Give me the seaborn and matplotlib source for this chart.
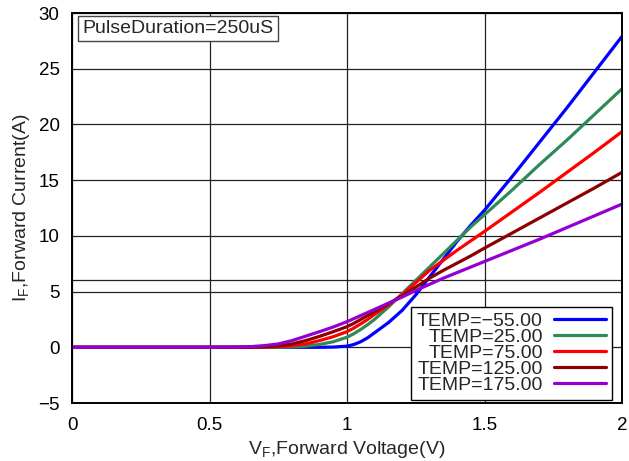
import numpy as np
import pandas as pd
import matplotlib
matplotlib.use("Agg")
import matplotlib.pyplot as plt
import seaborn as sns
from matplotlib.ticker import FixedLocator

# ---- data ----
vf = [0.0, 0.5, 0.6, 0.65, 0.7, 0.75, 0.8, 0.85, 0.9, 0.95, 1.0, 1.025, 1.05, 1.075, 1.1, 1.15,
      1.2, 1.25, 1.3, 1.35, 1.4, 1.45, 1.5, 1.6, 1.7, 1.8, 1.9, 2.0]

i_m55 = [0, 0, 0, 0, 0, 0, 0, 0, 0, 0.02, 0.1, 0.25, 0.5, 0.85, 1.3, 2.2,
         3.3, 4.7, 6.3, 7.9, 9.5, 10.95, 12.3, 15.3, 18.4, 21.5, 24.7, 27.9]
i_25 = [0, 0, 0, 0, 0, 0, 0.03, 0.1, 0.25, 0.5, 0.9, 1.22, 1.6, 2.03, 2.5, 3.6,
        4.8, 6.0, 7.2, 8.4, 9.6, 10.8, 11.9, 14.1, 16.4, 18.6, 20.9, 23.2]
i_75 = [0, 0, 0, 0, 0.02, 0.05, 0.15, 0.3, 0.6, 0.95, 1.4, 1.73, 2.1, 2.5, 2.95, 3.8,
        4.7, 5.8, 6.9, 7.8, 8.7, 9.55, 10.4, 12.15, 13.9, 15.7, 17.5, 19.35]
i_125 = [0, 0, 0, 0.01, 0.05, 0.12, 0.3, 0.6, 0.98, 1.4, 1.85, 2.15, 2.5, 2.85, 3.2, 3.9,
         4.6, 5.4, 6.2, 6.9, 7.55, 8.2, 8.9, 10.25, 11.6, 12.95, 14.3, 15.7]
i_175 = [0, 0, 0.02, 0.06, 0.15, 0.3, 0.6, 1.0, 1.4, 1.82, 2.3, 2.57, 2.85, 3.12, 3.4, 3.95,
         4.5, 5.1, 5.65, 6.2, 6.7, 7.2, 7.7, 8.7, 9.7, 10.75, 11.8, 12.85]

series_labels = ["TEMP=\u221255.00", "TEMP=25.00", "TEMP=75.00", "TEMP=125.00", "TEMP=175.00"]
series_values = [i_m55, i_25, i_75, i_125, i_175]
series_colors = ["#0000FF", "#2E8B57", "#FF0000", "#8B0000", "#9400D3"]

x_ticks = [0, 0.5, 1, 1.5, 2]
x_tick_labels = ["0", "0.5", "1", "1.5", "2"]
y_ticks = [-5, 0, 5, 10, 15, 20, 25, 30]
y_tick_labels = ["\u22125", "0", "5", "10", "15", "20", "25", "30"]
y_extra_grid = [6]

note_text = "PulseDuration=250uS"

rows = []
for lab, vals in zip(series_labels, series_values):
    for v, i in zip(vf, vals):
        rows.append({"VF": v, "IF": i, "TEMP": lab})
df = pd.DataFrame(rows)

# ---- style ----
sns.set_style("white")
plt.rcParams["font.family"] = ["Liberation Sans", "DejaVu Sans"]
plt.rcParams["mathtext.fontset"] = "custom"
plt.rcParams["mathtext.rm"] = "Liberation Sans"
plt.rcParams["mathtext.it"] = "Liberation Sans"

fig = plt.figure(figsize=(6.29, 4.61), dpi=100)
ax = fig.add_axes([72 / 629, 1 - 403 / 461, 550 / 629, 390 / 461])

sns.lineplot(data=df, x="VF", y="IF", hue="TEMP", hue_order=series_labels,
             palette=series_colors, linewidth=2.3, ax=ax, legend=False, sort=True)

ax.set_xlim(0, 2)
ax.set_ylim(-5, 30)
ax.set_xticks(x_ticks)
ax.set_xticklabels(x_tick_labels)
ax.set_yticks(y_ticks)
ax.set_yticklabels(y_tick_labels)
ax.yaxis.set_minor_locator(FixedLocator(y_extra_grid))

ax.grid(True, which="major", color="#222222", linewidth=0.9)
ax.grid(True, which="minor", axis="y", color="#222222", linewidth=0.9)
ax.set_axisbelow(True)
ax.tick_params(axis="both", which="both", length=0, labelsize=13.5, colors="black")
ax.tick_params(axis="x", pad=10)
ax.tick_params(axis="y", pad=9)

for sp in ax.spines.values():
    sp.set_color("black")
    sp.set_linewidth(1.4)

ax.set_xlabel(r"V$_\mathrm{F}$,Forward Voltage(V)", fontsize=14, labelpad=4)
ax.set_ylabel(r"I$_\mathrm{F}$,Forward Current(A)", fontsize=14, labelpad=4)

ax.text(0.019, 0.982, note_text, transform=ax.transAxes, ha="left", va="top",
        fontsize=14,
        bbox=dict(boxstyle="square,pad=0.22", facecolor="white", edgecolor="#444444", linewidth=1.0))

handles = [plt.Line2D([], [], color=c, linewidth=2.3) for c in series_colors]
leg = ax.legend(handles, series_labels, loc="lower right",
                bbox_to_anchor=(1 - 10 / 550, 3 / 390), borderaxespad=0,
                markerfirst=False,
                fontsize=14, frameon=True, fancybox=False, framealpha=1,
                edgecolor="black", handlelength=2.7, handletextpad=0.55,
                labelspacing=-0.08, borderpad=0.3)
leg.get_frame().set_linewidth(1.0)

fig.savefig("out.png", dpi=100)
